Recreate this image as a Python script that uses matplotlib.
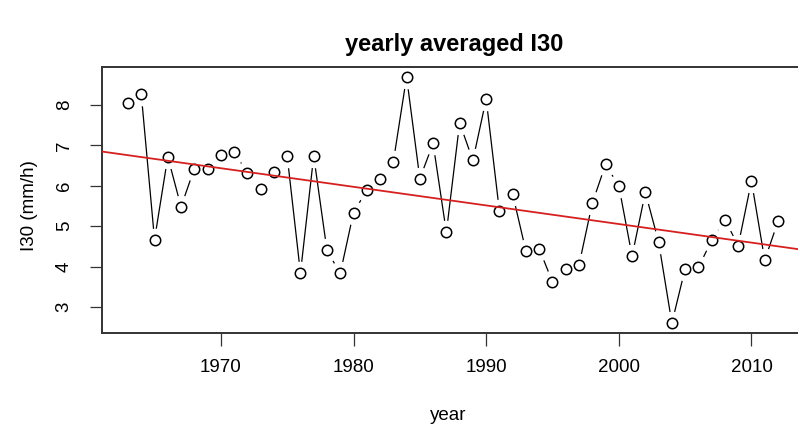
import numpy as np
import matplotlib.pyplot as plt

plt.rcParams['font.family'] = ['Liberation Sans', 'DejaVu Sans']

# yearly averaged I30 values
years = list(range(1963, 2013))
i30 = [8.05, 8.27, 4.67, 6.72, 5.48, 6.43, 6.42, 6.77, 6.84, 6.32,
       5.93, 6.34, 6.74, 3.84, 6.74, 4.40, 3.83, 5.34, 5.89, 6.18,
       6.59, 8.70, 6.18, 7.05, 4.85, 7.56, 6.63, 8.15, 5.37, 5.79,
       4.38, 4.44, 3.62, 3.93, 4.04, 5.57, 6.53, 6.00, 4.26, 5.84,
       4.61, 2.60, 3.95, 3.98, 4.65, 5.16, 4.52, 6.12, 4.16, 5.12]
xticks = [1970, 1980, 1990, 2000, 2010]
yticks = [3, 4, 5, 6, 7, 8]

x = np.array(years, dtype=float)
y = np.array(i30)

fig = plt.figure(figsize=(7.98, 4.34), dpi=100)
# right edge of the box falls just outside the picture, as in the reference
ax = fig.add_axes([102 / 798, 1 - 333 / 434, 702 / 798, 266 / 434])

# type="b" look: line, white halos to cut gaps, then open circles
ax.plot(x, y, color='black', lw=0.9, zorder=1)
ax.plot(x, y, ls='none', marker='o', ms=16, mfc='white', mec='white', zorder=2)
ax.plot(x, y, ls='none', marker='o', ms=7.5, mfc='white', mec='black', mew=1.1, zorder=3)

# linear trend
slope, intercept = np.polyfit(x, y, 1)
ax.axline((1987.5, intercept + slope * 1987.5), slope=slope, color='#d62020', lw=1.3, zorder=4)

# R default 4% axis padding
xr = x.max() - x.min()
yr = y.max() - y.min()
ax.set_xlim(x.min() - 0.04 * xr, x.max() + 0.04 * xr)
ax.set_ylim(y.min() - 0.04 * yr, y.max() + 0.04 * yr)

ax.set_xticks(xticks)
ax.set_yticks(yticks)
ax.tick_params(axis='both', length=9, width=0.9, labelsize=13.5, pad=10, color='#333333')
ax.tick_params(axis='y', pad=12)
ax.tick_params(axis='y', labelrotation=90)
for lbl in ax.get_yticklabels():
    lbl.set_va('center')
for s in ax.spines.values():
    s.set_linewidth(1.4)
    s.set_color('#333333')

fig.text(448 / 798, 1 - 415 / 434, 'year', ha='center', va='center', fontsize=13.5)
fig.text(30 / 798, 1 - 206 / 434, 'I30 (mm/h)', rotation=90, ha='center', va='center', fontsize=13.5)
fig.text(454 / 798, 1 - 45 / 434, 'yearly averaged I30', ha='center', va='center',
         fontsize=17, fontweight='bold')

plt.savefig('out.png', dpi=100)
